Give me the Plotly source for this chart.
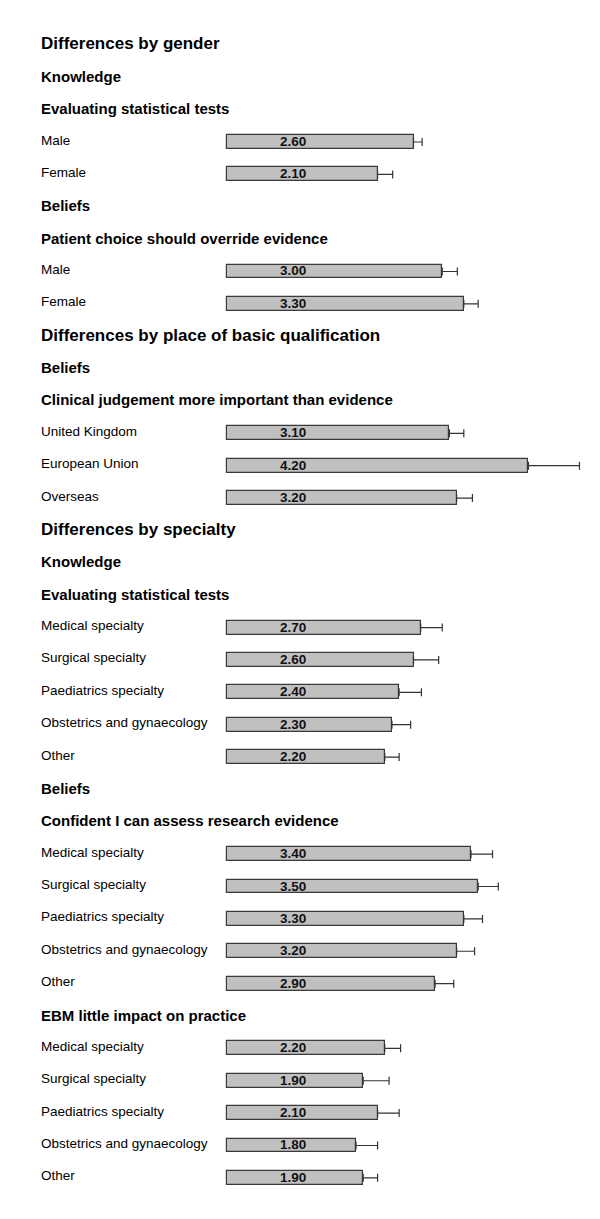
import plotly.graph_objects as go

labels = [
    "Differences by gender", "Knowledge", "Evaluating statistical tests",
    "Male", "Female",
    "Beliefs", "Patient choice should override evidence",
    "Male", "Female",
    "Differences by place of basic qualification", "Beliefs",
    "Clinical judgement more important than evidence",
    "United Kingdom", "European Union", "Overseas",
    "Differences by specialty", "Knowledge", "Evaluating statistical tests",
    "Medical specialty", "Surgical specialty", "Paediatrics specialty",
    "Obstetrics and gynaecology", "Other",
    "Beliefs", "Confident I can assess research evidence",
    "Medical specialty", "Surgical specialty", "Paediatrics specialty",
    "Obstetrics and gynaecology", "Other",
    "EBM little impact on practice",
    "Medical specialty", "Surgical specialty", "Paediatrics specialty",
    "Obstetrics and gynaecology", "Other",
]
# 1 = section heading, 2 = sub heading, 0 = bar row
levels = [1, 2, 2, 0, 0, 2, 2, 0, 0, 1, 2, 2, 0, 0, 0, 1, 2, 2, 0, 0, 0, 0, 0,
          2, 2, 0, 0, 0, 0, 0, 2, 0, 0, 0, 0, 0]
means = [None, None, None, 2.60, 2.10, None, None, 3.00, 3.30, None, None, None,
         3.10, 4.20, 3.20, None, None, None, 2.70, 2.60, 2.40, 2.30, 2.20,
         None, None, 3.40, 3.50, 3.30, 3.20, 2.90, None,
         2.20, 1.90, 2.10, 1.80, 1.90]
errors = [None, None, None, 0.12, 0.21, None, None, 0.21, 0.20, None, None, None,
          0.20, 0.71, 0.22, None, None, None, 0.30, 0.35, 0.31, 0.26, 0.20,
          None, None, 0.30, 0.28, 0.26, 0.25, 0.26, None,
          0.22, 0.36, 0.30, 0.30, 0.20]

FONT = "Liberation Sans, Arial, sans-serif"
LABEL_X = 0.92  # data-x position of the value labels

bar_y = [i for i, v in enumerate(means) if v is not None]
bar_x = [means[i] for i in bar_y]
bar_e = [errors[i] for i in bar_y]

OFF = 8  # page body margin
W, H = 600 - OFF, 1219 - OFF

fig = go.Figure()
fig.add_trace(go.Bar(
    x=bar_x, y=bar_y, orientation="h", width=0.43,
    marker=dict(color="#c0c0c0", line=dict(color="#3a3a3a", width=1.2)),
    error_x=dict(type="data", array=bar_e, symmetric=False, arrayminus=[0] * len(bar_e),
                 color="#333333", thickness=1.2, width=4),
    hoverinfo="skip", showlegend=False,
))

for yv, xv in zip(bar_y, bar_x):
    fig.add_annotation(
        x=LABEL_X, xref="x", y=yv, yref="y", text=f"<b>{xv:.2f}</b>",
        showarrow=False, xanchor="center", yanchor="middle", yshift=0.5,
        font=dict(family=FONT, size=13.5, color="#111111"),
    )

sizes = {0: 13.5, 1: 17, 2: 15}
for i, (lab, lev) in enumerate(zip(labels, levels)):
    txt = lab if lev == 0 else f"<b>{lab}</b>"
    fig.add_annotation(
        x=(39 - OFF) / W, xref="paper", y=i, yref="y", text=txt, showarrow=False,
        xanchor="left", yanchor="middle", yshift=2 if lev == 0 else 1,
        font=dict(family=FONT, size=sizes[lev], color="#000000"),
    )

px_per_unit = 71.85
x0_px = 226.7 - OFF
row0_px = 44.9 - OFF
row_px = 32.37
fig.update_layout(
    width=W, height=H, margin=dict(l=0, r=0, t=0, b=0),
    plot_bgcolor="white", paper_bgcolor="white",
    xaxis=dict(range=[-x0_px / px_per_unit, (W - x0_px) / px_per_unit],
               visible=False, fixedrange=True),
    yaxis=dict(range=[(H - row0_px) / row_px, -row0_px / row_px],
               visible=False, fixedrange=True),
    bargap=0,
)
fig.write_html("out.html")
